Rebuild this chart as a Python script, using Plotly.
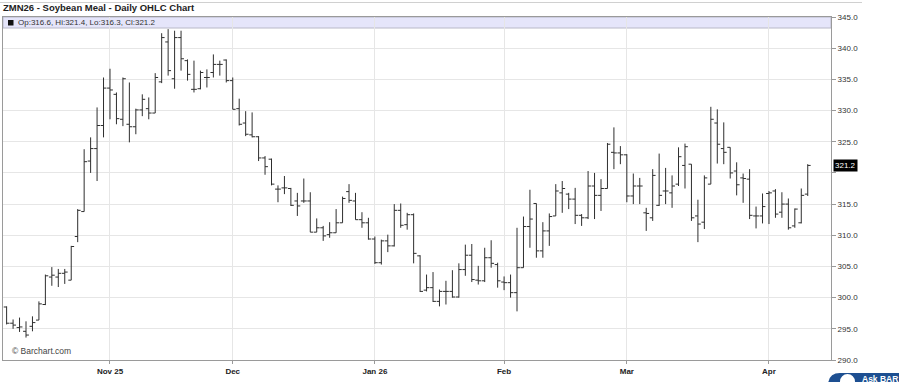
import pandas as pd
import plotly.graph_objects as go

# ---- data ----
holidays = ["2025-11-27", "2025-12-25", "2026-01-01", "2026-01-19", "2026-02-16", "2026-04-03"]
dates = [d.strftime("%Y-%m-%d") for d in
         pd.bdate_range("2025-10-10", "2026-04-10", freq="C", holidays=holidays)]

opens = [298.5, 295.9, 295.2, 294.6, 295.4, 296.4, 298.9, 303.3, 303.3, 303.9,
         302.8, 309.8, 313.8, 321.9, 323.9, 327.6, 333.6, 332.6, 328.6, 327.8,
         327.4, 330.1, 330.3, 329.6, 334.6, 341.0, 335.1, 341.7, 338.0, 333.4,
         333.5, 335.3, 336.1, 337.4, 338.1, 334.8, 330.3, 328.0, 326.1, 325.8,
         322.4, 322.2, 317.4, 317.6, 317.5, 315.5, 315.5, 315.5, 310.5, 311.2,
         310.1, 310.4, 312.0, 317.0, 315.5, 312.5, 312.0, 309.4, 305.6, 309.1,
         308.3, 314.0, 311.7, 313.3, 306.7, 301.2, 301.6, 299.4, 301.0, 301.0,
         300.1, 304.5, 306.8, 302.8, 302.7, 306.4, 305.3, 302.5, 302.4, 300.8,
         304.8, 311.4, 315.1, 307.5, 310.7, 313.1, 316.8, 316.6, 315.8, 313.2,
         312.8, 317.9, 316.4, 317.5, 323.3, 323.2, 322.9, 316.3, 317.9, 313.6,
         312.8, 314.8, 317.1, 316.8, 318.2, 321.2, 321.4, 313.1, 312.1, 318.2,
         328.0, 323.9, 324.1, 320.3, 319.2, 319.0, 313.1, 313.1, 316.7, 317.1,
         313.7, 315.0, 311.5, 312.0, 316.6]
highs = [298.6, 296.5, 296.8, 296.2, 297.0, 299.4, 303.7, 304.9, 304.6, 304.6,
         308.3, 314.2, 323.8, 325.7, 330.5, 335.3, 336.7, 332.9, 335.3, 334.5,
         330.3, 332.6, 332.1, 336.0, 342.4, 343.05, 342.8, 342.8, 338.2, 338.0,
         336.4, 336.6, 339.0, 338.0, 338.2, 335.3, 331.9, 329.9, 329.7, 325.9,
         322.7, 322.3, 318.0, 319.5, 317.6, 316.8, 319.1, 316.9, 312.7, 311.5,
         312.1, 314.2, 316.2, 318.2, 316.8, 313.7, 312.8, 309.8, 309.3, 310.1,
         315.0, 315.1, 313.6, 313.5, 306.8, 303.7, 304.1, 301.3, 302.7, 304.4,
         305.5, 308.5, 308.6, 305.1, 308.0, 309.2, 305.6, 303.4, 303.7, 311.2,
         313.0, 317.3, 315.1, 312.1, 313.5, 318.2, 318.7, 316.8, 317.6, 313.4,
         320.3, 320.0, 319.0, 324.8, 327.3, 324.3, 323.0, 319.9, 319.2, 314.4,
         320.6, 323.1, 320.8, 319.6, 324.1, 324.7, 321.4, 315.7, 319.6, 330.6,
         330.2, 328.1, 324.1, 321.7, 319.9, 320.6, 314.6, 316.7, 317.1, 317.4,
         316.9, 315.9, 314.3, 317.5, 321.4]
lows = [295.7, 295.0, 294.5, 293.6, 294.6, 296.4, 298.8, 301.9, 301.7, 302.2,
        302.8, 308.9, 313.8, 320.0, 318.7, 325.7, 328.6, 327.8, 327.5, 324.9,
        326.2, 329.1, 328.6, 329.6, 334.4, 335.6, 333.5, 336.4, 334.8, 332.9,
        333.4, 333.7, 335.3, 335.6, 334.5, 330.2, 327.6, 325.9, 325.7, 321.9,
        319.7, 318.0, 315.3, 316.6, 314.7, 313.1, 315.2, 310.5, 310.5, 309.1,
        309.6, 310.4, 312.0, 315.2, 312.5, 311.2, 309.3, 305.4, 305.3, 307.3,
        308.2, 311.2, 310.9, 305.5, 300.9, 301.0, 299.3, 298.6, 298.9, 300.0,
        300.0, 303.5, 302.5, 302.1, 302.5, 304.8, 301.6, 301.2, 300.0, 297.8,
        304.8, 308.0, 306.4, 306.4, 308.3, 313.1, 313.6, 314.2, 311.8, 311.5,
        312.6, 312.6, 313.9, 317.5, 320.6, 321.4, 315.3, 315.0, 315.0, 310.7,
        312.3, 314.7, 315.0, 314.4, 317.9, 317.5, 312.3, 308.9, 311.0, 318.2,
        321.5, 321.4, 319.1, 316.4, 315.2, 312.6, 311.1, 311.9, 311.8, 312.8,
        312.8, 310.9, 311.2, 311.9, 316.3]
closes = [295.9, 295.6, 295.3, 294.0, 296.0, 299.0, 303.5, 303.6, 303.9, 304.1,
          308.2, 314.0, 321.8, 323.9, 327.6, 333.6, 333.3, 328.7, 335.1, 327.4,
          330.1, 331.8, 329.6, 335.3, 341.7, 336.4, 341.7, 338.3, 335.8, 333.4,
          336.1, 335.3, 337.4, 337.4, 334.8, 330.2, 327.8, 326.2, 325.8, 322.4,
          321.0, 318.2, 317.4, 317.6, 314.8, 314.7, 315.5, 310.5, 311.2, 309.9,
          310.4, 312.0, 315.9, 315.6, 312.5, 312.0, 309.4, 305.6, 309.1, 308.3,
          314.0, 311.6, 313.3, 307.1, 301.0, 301.6, 299.4, 301.0, 301.0, 300.1,
          304.5, 306.8, 302.9, 302.7, 306.4, 305.5, 302.7, 302.4, 300.8, 304.8,
          311.4, 312.6, 307.5, 310.7, 313.0, 317.1, 317.5, 315.8, 313.2, 312.8,
          317.9, 316.4, 317.5, 324.6, 323.2, 322.9, 316.3, 317.9, 317.9, 313.5,
          319.6, 316.4, 317.1, 317.9, 322.6, 324.2, 312.8, 311.8, 319.2, 328.6,
          324.6, 323.3, 320.0, 318.1, 319.1, 313.2, 313.1, 314.6, 316.8, 313.4,
          315.0, 311.2, 314.2, 316.4, 321.2]

tick_dates = ["2025-11-03", "2025-12-01", "2026-01-02", "2026-02-02", "2026-03-02", "2026-04-01"]
tick_labels = ["Nov 25", "Dec", "Jan 26", "Feb", "Mar", "Apr"]
y_ticks = [290, 295, 300, 305, 310, 315, 320, 325, 330, 335, 340, 345]
y_hidden = [320]  # label covered by the last-price tag

title_text = "ZMN26 - Soybean Meal - Daily OHLC Chart"
last_o, last_h, last_l, last_c = 316.6, 321.4, 316.3, 321.2
legend_text = f"Op:{last_o}, Hi:{last_h}, Lo:{last_l}, Cl:{last_c}"

# ---- figure ----
FONT = "Liberation Sans, Arial, sans-serif"
BAR = "#2e2e2e"

fig = go.Figure(go.Ohlc(
    x=dates, open=opens, high=highs, low=lows, close=closes,
    increasing=dict(line=dict(color=BAR, width=1)),
    decreasing=dict(line=dict(color=BAR, width=1)),
    tickwidth=0.45, hoverinfo="skip", showlegend=False,
))

n = len(dates)
fig.update_layout(
    width=899, height=382,
    margin=dict(l=3, r=68, t=17, b=22),
    paper_bgcolor="white", plot_bgcolor="white",
    font=dict(family=FONT, size=8, color="#333"),
    title=dict(text=f"<b>{title_text}</b>", x=3 / 899, xanchor="left",
               y=1 - 8 / 382, yanchor="middle", xref="container", yref="container",
               font=dict(family=FONT, size=9.5, color="#222")),
    xaxis=dict(type="category", range=[-0.56, n + 2.6],
               rangeslider=dict(visible=False),
               tickmode="array", tickvals=tick_dates,
               ticktext=[f"<b>{t}</b>" for t in tick_labels],
               showgrid=True, gridcolor="#e6e6e6", gridwidth=1,
               showline=True, linecolor="#9a9a9a", linewidth=1, mirror=True,
               ticks="outside", ticklen=3, tickcolor="#9a9a9a",
               tickfont=dict(family=FONT, size=8, color="#222"), zeroline=False),
    yaxis=dict(side="right", range=[290, 345], tickmode="array", tickvals=y_ticks,
               ticktext=["" if v in y_hidden else f"{v:.1f}" for v in y_ticks],
               showgrid=True, gridcolor="#e6e6e6", gridwidth=1,
               showline=True, linecolor="#9a9a9a", linewidth=1, mirror=True,
               ticks="outside", ticklen=4, tickcolor="#9a9a9a",
               tickfont=dict(family=FONT, size=8, color="#333"), zeroline=False),
)

band_h = 11 / 343
fig.add_shape(type="rect", xref="paper", yref="paper", x0=0, x1=1, y0=1 - band_h, y1=1,
              fillcolor="#e5e5fa", line=dict(color="#b8b8c8", width=1), layer="below")
fig.add_shape(type="rect", xref="paper", yref="paper",
              x0=5 / 828, x1=10.5 / 828, y0=1 - 8.5 / 343, y1=1 - 3 / 343,
              fillcolor="#111", line=dict(width=0))
fig.add_annotation(text=legend_text, xref="paper", yref="paper", x=12.5 / 828, y=1 - 5.5 / 343,
                   xanchor="left", yanchor="middle", showarrow=False,
                   font=dict(family=FONT, size=8, color="#333"))

# last price tag
fig.add_annotation(text=f"{last_c}", xref="paper", yref="y", x=1.002, y=last_c,
                   xanchor="left", yanchor="middle", showarrow=False,
                   bgcolor="#000", font=dict(family=FONT, size=8, color="white"),
                   borderpad=1)

fig.add_annotation(text="© Barchart.com", xref="paper", yref="paper", x=7 / 828, y=9 / 343,
                   xanchor="left", yanchor="middle", showarrow=False,
                   font=dict(family=FONT, size=8.5, color="#444"))

# top page border line
fig.add_shape(type="line", xref="paper", yref="paper", x0=-3 / 828, x1=859 / 828,
              y0=1 + 14.5 / 343, y1=1 + 14.5 / 343, line=dict(color="#d0d0d0", width=1))

# "Ask BARCHART" button (partially visible at the bottom-right edge)
bx0 = (828 - 3) / 828
fig.add_shape(type="path", xref="paper", yref="paper",
              path=f"M {bx0 + 12/828},{-13/343} L 1.2,{-13/343} L 1.2,{-40/343} "
                   f"L {bx0 + 12/828},{-40/343} Q {bx0},{-40/343} {bx0},{-26/343} "
                   f"Q {bx0},{-13/343} {bx0 + 12/828},{-13/343} Z",
              fillcolor="#1d4f91", line=dict(width=0))
fig.add_shape(type="circle", xref="paper", yref="paper",
              x0=(840 - 3) / 828, x1=(855 - 3) / 828, y0=-29 / 343, y1=-14 / 343,
              fillcolor="white", line=dict(width=0))
fig.add_annotation(text="<b>Ask BAR</b>", xref="paper", yref="paper", x=(860 - 3) / 828,
                   y=-19 / 343, xanchor="left", yanchor="middle", showarrow=False,
                   font=dict(family=FONT, size=8.5, color="white"))

fig.write_html("out.html")
